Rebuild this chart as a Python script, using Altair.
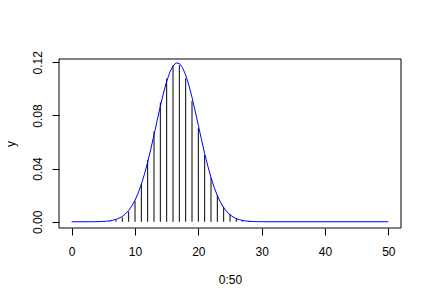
import altair as alt
import pandas as pd

# Binomial(50, 1/3) probabilities at k = 0..50 (black vertical lines)
k_values = list(range(0, 51))
pmf_values = [0.0000000016, 0.000000039, 0.00000048, 0.0000038, 0.0000226,
              0.000104, 0.000389, 0.001224, 0.003289, 0.007675,
              0.015733, 0.028605, 0.046483, 0.067937, 0.089774,
              0.107729, 0.117828, 0.117828, 0.108009, 0.090955,
              0.070490, 0.050350, 0.033185, 0.020200, 0.011362,
              0.005908, 0.002841, 0.001263, 0.000519, 0.000197,
              0.000069, 0.000022, 0.0000065, 0.0000019, 0.0000005,
              0.0, 0.0, 0.0, 0.0, 0.0, 0.0, 0.0, 0.0, 0.0, 0.0,
              0.0, 0.0, 0.0, 0.0, 0.0, 0.0]

# Blue curve (normal approximation) read as points
curve_x = [0, 3, 3.5, 4, 4.5, 5, 5.5, 6, 6.5, 7, 7.5, 8, 8.5, 9, 9.5, 10,
           10.5, 11, 11.5, 12, 12.5, 13, 13.5, 14, 14.5, 15, 15.5, 16, 16.5,
           17, 17.5, 18, 18.5, 19, 19.5, 20, 20.5, 21, 21.5, 22, 22.5, 23,
           23.5, 24, 24.5, 25, 25.5, 26, 26.5, 27, 27.5, 28, 28.5, 29, 29.5,
           30, 31, 50]
curve_y = [0.0, 0.000026, 0.000049, 0.0000875, 0.000153, 0.000262, 0.000438,
           0.000715, 0.001143, 0.001786, 0.002728, 0.004075, 0.005953,
           0.008497, 0.011869, 0.016197, 0.021623, 0.028215, 0.036011,
           0.044918, 0.054807, 0.065358, 0.076229, 0.086907, 0.096889,
           0.105620, 0.112573, 0.117312, 0.119533, 0.119085, 0.116001,
           0.110482, 0.102883, 0.093676, 0.083399, 0.072591, 0.061781,
           0.051411, 0.041831, 0.033277, 0.025884, 0.019684, 0.014638,
           0.010642, 0.007568, 0.005258, 0.003574, 0.002375, 0.001543,
           0.000980, 0.000609, 0.000370, 0.000220, 0.000127, 0.0000724,
           0.0000401, 0.0, 0.0]

x_ticks = [0, 10, 20, 30, 40, 50]
y_ticks = [0.0, 0.02, 0.04, 0.06, 0.08, 0.10, 0.12]

W, H = 342, 169
FONT = "Liberation Sans"

stems = pd.DataFrame({"x": k_values, "y": pmf_values, "zero": [0.0] * len(k_values)})
curve = pd.DataFrame({"x": curve_x, "y": curve_y})

xscale = alt.Scale(domain=[-2, 52], nice=False, zero=False)
yscale = alt.Scale(domain=[-0.0047, 0.1225], nice=False, zero=False)

xaxis = alt.Axis(values=x_ticks, title="0:50", domain=False, grid=False,
                 tickSize=7, tickColor="black", labelColor="black",
                 labelFont=FONT, labelFontSize=12, labelPadding=11,
                 titleFont=FONT, titleFontSize=12, titleFontWeight="normal",
                 titleColor="black", titleY=51, titleBaseline="middle")
yaxis = alt.Axis(values=y_ticks, title="y", domain=False, grid=False,
                 tickSize=7, tickColor="black", labelColor="black",
                 labelExpr="(round(datum.value*100) % 4 == 0) ? format(datum.value, '.2f') : ''",
                 labelAngle=270, labelAlign="center", labelBaseline="bottom",
                 labelFont=FONT, labelFontSize=12, labelPadding=8,
                 titleFont=FONT, titleFontSize=12, titleFontWeight="normal",
                 titleColor="black", titleX=-49, titleY=H / 2, titleAngle=270,
                 titleAlign="center", titleBaseline="middle")

rules = alt.Chart(stems).mark_rule(color="black", strokeWidth=1).encode(
    x=alt.X("x:Q", scale=xscale, axis=xaxis),
    y=alt.Y("y:Q", scale=yscale, axis=yaxis),
    y2="zero:Q",
)

line = alt.Chart(curve).mark_line(color="#0000FF", strokeWidth=1).encode(
    x=alt.X("x:Q", scale=xscale),
    y=alt.Y("y:Q", scale=yscale),
)

box = alt.Chart(pd.DataFrame({"a": [0]})).mark_rect(
    fill=None, stroke="black", strokeWidth=1
).encode(x=alt.value(0), x2=alt.value(W), y=alt.value(0), y2=alt.value(H))

chart = alt.layer(rules, line, box).properties(
    width=W, height=H,
    autosize=alt.AutoSizeParams(type="none"),
    padding={"left": 59, "top": 59, "right": 31, "bottom": 74},
    background="white",
).configure_view(stroke=None)

chart.save("out.html", embed_options={"renderer": "svg", "actions": False})
